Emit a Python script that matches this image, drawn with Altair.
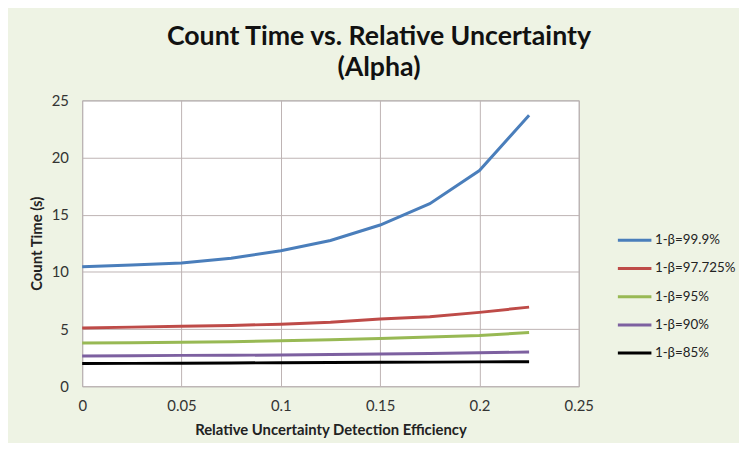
import altair as alt
import pandas as pd

x_vals = [0, 0.025, 0.05, 0.075, 0.1, 0.125, 0.15, 0.175, 0.2, 0.225]
s_999 = [10.45, 10.6, 10.78, 11.2, 11.85, 12.75, 14.1, 15.97, 18.86, 23.7]
s_97725 = [5.1, 5.17, 5.25, 5.32, 5.42, 5.6, 5.88, 6.08, 6.46, 6.92]
s_95 = [3.78, 3.8, 3.84, 3.9, 3.98, 4.07, 4.18, 4.3, 4.44, 4.7]
s_90 = [2.65, 2.67, 2.7, 2.71, 2.73, 2.77, 2.82, 2.87, 2.92, 2.99]
s_85 = [1.99, 2.0, 2.02, 2.04, 2.05, 2.07, 2.09, 2.11, 2.13, 2.15]

series_names = ["1-β=99.9%", "1-β=97.725%", "1-β=95%", "1-β=90%", "1-β=85%"]
series_vals = [s_999, s_97725, s_95, s_90, s_85]
colors = ["#4a7ebb", "#be4b48", "#98b954", "#7d60a0", "#000000"]

rows = []
for name, vals in zip(series_names, series_vals):
    for xv, yv in zip(x_vals, vals):
        rows.append({"x": xv, "y": yv, "series": name})
df = pd.DataFrame(rows)

font = "Lato"

chart = alt.Chart(df).mark_line(strokeWidth=3).encode(
    x=alt.X("x:Q", scale=alt.Scale(domain=[0, 0.25], nice=False),
            axis=alt.Axis(values=[0, 0.05, 0.1, 0.15, 0.2, 0.25], format="~g",
                          title="Relative Uncertainty Detection Efficiency",
                          titleFontSize=15, titleFont=font, titleFontWeight="bold",
                          titleColor="#222", titlePadding=9,
                          labelFont=font, labelFontSize=15, labelColor="#333",
                          labelPadding=13, ticks=False, domain=False,
                          gridColor="#bdb3b3", labelFlush=False)),
    y=alt.Y("y:Q", scale=alt.Scale(domain=[0, 25], nice=False),
            axis=alt.Axis(values=[0, 5, 10, 15, 20, 25],
                          title="Count Time (s)",
                          titleFontSize=15, titleFont=font, titleFontWeight="bold",
                          titleColor="#222", titlePadding=7,
                          labelFont=font, labelFontSize=15, labelColor="#333",
                          labelPadding=14, ticks=False, domain=False,
                          gridColor="#bdb3b3")),
    color=alt.Color("series:N", sort=series_names,
                    scale=alt.Scale(domain=series_names, range=colors),
                    legend=alt.Legend(title=None, orient="none", legendX=540, legendY=123,
                                      symbolType="stroke", symbolSize=1150,
                                      symbolStrokeWidth=3, labelFont=font,
                                      labelFontSize=13.5, labelColor="#222",
                                      rowPadding=3.5, labelOffset=2)),
    order=alt.Order("x:Q"),
).properties(
    width=502,
    height=289,
    title=alt.TitleParams(["Count Time vs. Relative Uncertainty", "(Alpha)"],
                          font=font, fontSize=27, fontWeight="bold", color="#111",
                          anchor="middle", dx=49, offset=12, lineHeight=31),
    background="#eef3e4",
    padding={"left": 75, "top": 91, "right": 162, "bottom": 55},
    autosize=alt.AutoSizeParams(type="none"),
).configure_view(
    fill="white", stroke="#a9a9a9", strokeWidth=1
)

chart.save("out.html", embed_options={"renderer": "svg", "actions": False})
